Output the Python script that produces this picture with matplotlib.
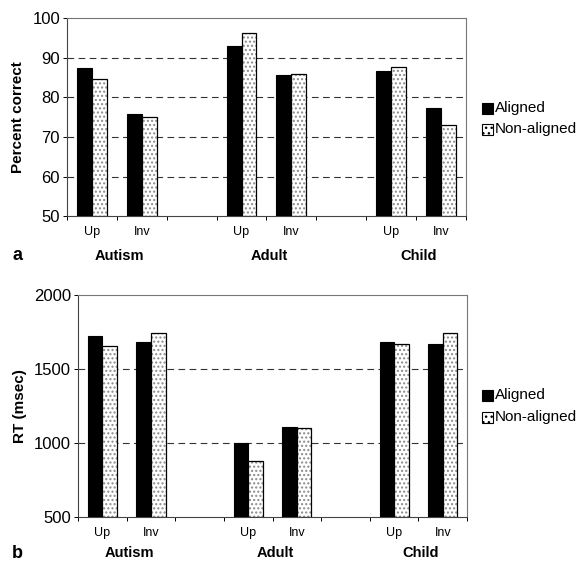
import matplotlib
matplotlib.use("Agg")
import matplotlib.pyplot as plt
import numpy as np

plt.rcParams["font.family"] = ["Liberation Sans", "DejaVu Sans"]

groups = ["Autism", "Adult", "Child"]
conditions = ["Up", "Inv"]
series = ["Aligned", "Non-aligned"]

# percent correct (panel a)
pc_aligned = [87.4, 75.8, 93.0, 85.7, 86.6, 77.4]
pc_nonaligned = [84.7, 75.1, 96.3, 85.9, 87.7, 73.0]

# reaction time in msec (panel b)
rt_aligned = [1723, 1684, 997, 1109, 1680, 1671]
rt_nonaligned = [1655, 1745, 879, 1098, 1666, 1740]


def draw_panel(ax, aligned, nonaligned, ylim, yticks, ylabel, letter, label_y, letter_x):
    # 8 slots: Up, Inv, gap, Up, Inv, gap, Up, Inv
    slots = np.array([0, 1, 3, 4, 6, 7])
    w = 0.3
    base = ylim[0]
    ax.bar(slots - w / 2, np.array(aligned) - base, w, bottom=base,
           color="black", edgecolor="black", linewidth=0.8, zorder=3)
    ax.bar(slots + w / 2, np.array(nonaligned) - base, w, bottom=base,
           color="white", edgecolor="#8a8a8a", hatch="....", linewidth=0, zorder=3)
    ax.bar(slots + w / 2, np.array(nonaligned) - base, w, bottom=base,
           fill=False, edgecolor="black", linewidth=0.9, zorder=4)

    ax.set_xlim(-0.5, 7.5)
    ax.set_ylim(*ylim)
    ax.set_yticks(yticks)
    ax.tick_params(axis="y", labelsize=12, length=3, width=0.7, pad=2)
    for y in yticks[1:-1]:
        ax.axhline(y, color="#333333", linestyle=(0, (6, 4)), linewidth=0.8, zorder=1)

    ax.set_xticks(np.arange(-0.5, 8.0, 1.0))
    ax.set_xticklabels([])
    ax.tick_params(axis="x", length=3, width=0.7, direction="out")
    for s, lab in zip(slots, conditions * 3):
        ax.text(s, label_y[0], lab, transform=ax.get_xaxis_transform(),
                ha="center", va="center", fontsize=9)
    for g, c in zip(groups, [0.5, 3.5, 6.5]):
        ax.text(c + 0.05, label_y[1], g, transform=ax.get_xaxis_transform(),
                ha="center", va="center", fontsize=10.5, fontweight="bold")
    ax.text(letter_x, label_y[1], letter, transform=ax.transAxes,
            ha="left", va="center", fontsize=13, fontweight="bold")

    for side in ["top", "right"]:
        ax.spines[side].set_color("#777777")
        ax.spines[side].set_linestyle((0, (2, 1)))
        ax.spines[side].set_linewidth(0.8)
    ax.spines["left"].set_color("#444444")
    ax.spines["left"].set_linewidth(0.8)
    ax.spines["bottom"].set_color("#444444")
    ax.spines["bottom"].set_linewidth(0.8)

    ax.set_ylabel(ylabel, fontsize=11, fontweight="bold", labelpad=5)


fig = plt.figure(figsize=(5.78, 5.63), dpi=100)
ax1 = fig.add_axes([0.116, 0.616, 0.690, 0.352])
ax2 = fig.add_axes([0.135, 0.082, 0.673, 0.394])

draw_panel(ax1, pc_aligned, pc_nonaligned, (50, 100), [50, 60, 70, 80, 90, 100],
           "Percent correct", "a", (-0.08, -0.2), -0.138)
draw_panel(ax2, rt_aligned, rt_nonaligned, (500, 2000), [500, 1000, 1500, 2000],
           "RT (msec)", "b", (-0.075, -0.165), -0.17)

for ax, ys in [(ax1, (108, 129)), (ax2, (395, 417))]:
    fig.patches.append(plt.Rectangle((482 / 578, 1 - (ys[0] + 6) / 563), 11 / 578, 11 / 563,
                                     transform=fig.transFigure, facecolor="black",
                                     edgecolor="black", linewidth=0.8))
    fig.patches.append(plt.Rectangle((482 / 578, 1 - (ys[1] + 6) / 563), 11 / 578, 11 / 563,
                                     transform=fig.transFigure, facecolor="white",
                                     edgecolor="black", hatch="...", linewidth=0.8))
    for y, name in zip(ys, series):
        fig.text(495 / 578, 1 - y / 563, name, ha="left", va="center", fontsize=11)

fig.savefig("out.png", dpi=100)
